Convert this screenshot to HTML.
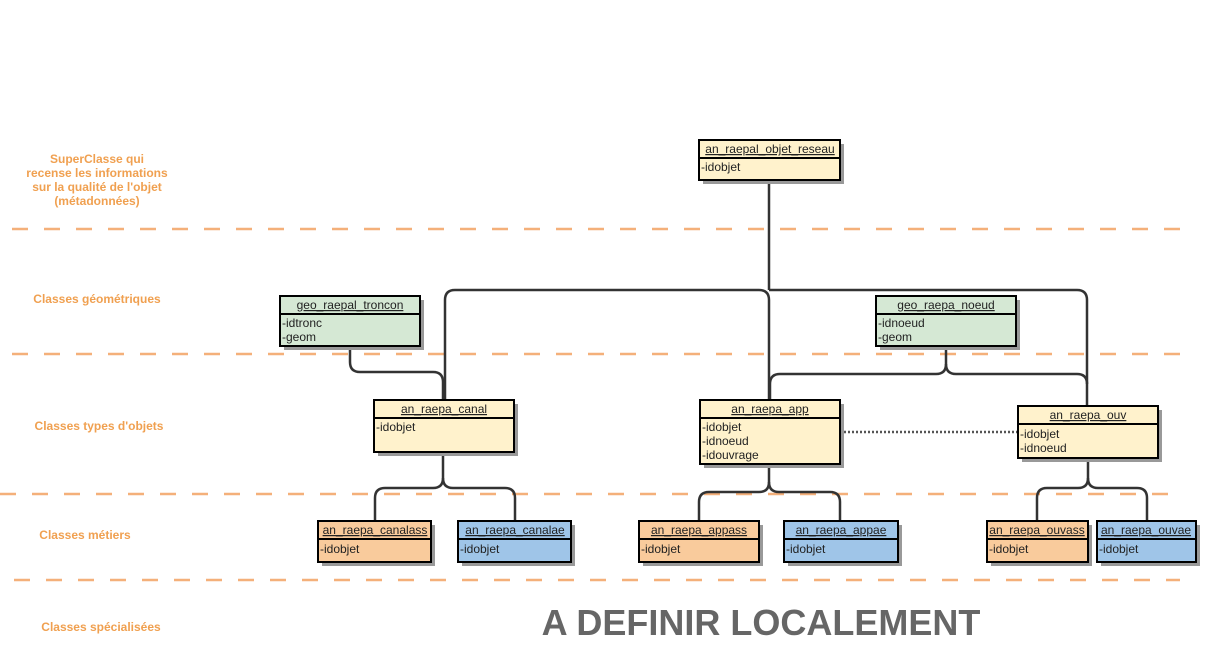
<!DOCTYPE html>
<html><head><meta charset="utf-8"><style>
html,body{margin:0;padding:0;background:#fff;}
svg{display:block;font-family:"Liberation Sans",Arial,sans-serif;}
.h{font-size:12px;text-decoration:underline;fill:#222;text-anchor:middle}
.a{font-size:12px;fill:#222}
.l{font-size:12px;font-weight:bold;fill:#f0a050;text-anchor:middle}
.c{fill:none;stroke:#333;stroke-width:2.5}
.d{stroke:#f4b07a;stroke-width:2.5;stroke-dasharray:16,16}
</style></head><body>
<svg width="1219" height="663" viewBox="0 0 1219 663">
<g class="dl">
<line class="d" x1="12" y1="229" x2="1180" y2="229"/>
<line class="d" x1="12" y1="354" x2="1180" y2="354"/>
<line class="d" x1="0" y1="494" x2="1180" y2="494"/>
<line class="d" x1="14" y1="580" x2="1180" y2="580"/>
</g>
<text class="l" x="97" y="163">SuperClasse qui</text>
<text class="l" x="97" y="177">recense les informations</text>
<text class="l" x="97" y="191">sur la qualité de l'objet</text>
<text class="l" x="97" y="205">(métadonnées)</text>
<text class="l" x="97" y="303">Classes géométriques</text>
<text class="l" x="99" y="430">Classes types d'objets</text>
<text class="l" x="85" y="539">Classes métiers</text>
<text class="l" x="101" y="631">Classes spécialisées</text>
<text x="761" y="635" style="font-size:36px;font-weight:bold;fill:#666;text-anchor:middle">A DEFINIR LOCALEMENT</text>

<!-- connectors -->
<path class="c" d="M769 180 V290" stroke-width="3"/>
<path class="c" d="M455 290 H759 Q769 290 769 300 V400"/>
<path class="c" d="M455 290 Q445 290 445 300 V400"/>
<path class="c" d="M769 290 H1077 Q1087 290 1087 300 V406"/>
<path class="c" d="M350 346 V362 Q350 372 360 372 H433 Q443 372 443 382 V400"/>
<path class="c" d="M946 346 V364 Q946 374 936 374 H780 Q770 374 770 384 V400"/>
<path class="c" d="M946 364 Q946 374 956 374 H1077 Q1087 374 1087 384"/>
<path class="c" d="M443 452 V478 Q443 488 433 488 H385 Q375 488 375 498 V521"/>
<path class="c" d="M443 478 Q443 488 453 488 H505 Q515 488 515 498 V521"/>
<path class="c" d="M769 464 V482 Q769 492 759 492 H709 Q699 492 699 502 V521"/>
<path class="c" d="M769 482 Q769 492 779 492 H830 Q840 492 840 502 V521"/>
<path class="c" d="M1088 458 V478 Q1088 488 1078 488 H1047 Q1037 488 1037 498 V521"/>
<path class="c" d="M1088 478 Q1088 488 1098 488 H1137 Q1147 488 1147 498 V521"/>
<line x1="840" y1="432" x2="1018" y2="432" stroke="#555" stroke-width="2.5" stroke-dasharray="2,2"/>

<!-- boxes: shadow, body, header line -->
<g stroke="#000" stroke-width="2">
<rect x="703" y="144" width="141" height="40" fill="#999" stroke="none"/>
<rect x="699" y="140" width="141" height="40" fill="#fff2cc"/>
<line x1="699" y1="158" x2="840" y2="158"/>
<rect x="284" y="300" width="140" height="50" fill="#999" stroke="none"/>
<rect x="280" y="296" width="140" height="50" fill="#d5e8d4"/>
<line x1="280" y1="314" x2="420" y2="314"/>
<rect x="880" y="300" width="140" height="50" fill="#999" stroke="none"/>
<rect x="876" y="296" width="140" height="50" fill="#d5e8d4"/>
<line x1="876" y1="314" x2="1016" y2="314"/>
<rect x="378" y="404" width="140" height="52" fill="#999" stroke="none"/>
<rect x="374" y="400" width="140" height="52" fill="#fff2cc"/>
<line x1="374" y1="418" x2="514" y2="418"/>
<rect x="704" y="404" width="140" height="64" fill="#999" stroke="none"/>
<rect x="700" y="400" width="140" height="64" fill="#fff2cc"/>
<line x1="700" y1="418" x2="840" y2="418"/>
<rect x="1022" y="410" width="140" height="52" fill="#999" stroke="none"/>
<rect x="1018" y="406" width="140" height="52" fill="#fff2cc"/>
<line x1="1018" y1="424" x2="1158" y2="424"/>

<rect x="322" y="525" width="113" height="41" fill="#999" stroke="none"/>
<rect x="318" y="521" width="113" height="41" fill="#f9cb9c"/>
<line x1="318" y1="539" x2="431" y2="539"/>
<rect x="462" y="525" width="113" height="41" fill="#999" stroke="none"/>
<rect x="458" y="521" width="113" height="41" fill="#9fc5e8"/>
<line x1="458" y1="539" x2="571" y2="539"/>
<rect x="643" y="525" width="120" height="41" fill="#999" stroke="none"/>
<rect x="639" y="521" width="120" height="41" fill="#f9cb9c"/>
<line x1="639" y1="539" x2="759" y2="539"/>
<rect x="788" y="525" width="114" height="41" fill="#999" stroke="none"/>
<rect x="784" y="521" width="114" height="41" fill="#9fc5e8"/>
<line x1="784" y1="539" x2="898" y2="539"/>
<rect x="991" y="525" width="101" height="41" fill="#999" stroke="none"/>
<rect x="987" y="521" width="101" height="41" fill="#f9cb9c"/>
<line x1="987" y1="539" x2="1088" y2="539"/>
<rect x="1101" y="525" width="99" height="41" fill="#999" stroke="none"/>
<rect x="1097" y="521" width="99" height="41" fill="#9fc5e8"/>
<line x1="1097" y1="539" x2="1196" y2="539"/>
</g>

<text class="h" x="770" y="153">an_raepal_objet_reseau</text>
<text class="a" x="701" y="171">-idobjet</text>
<text class="h" x="350" y="309">geo_raepal_troncon</text>
<text class="a" x="282" y="327">-idtronc</text>
<text class="a" x="282" y="341">-geom</text>
<text class="h" x="946" y="309">geo_raepa_noeud</text>
<text class="a" x="878" y="327">-idnoeud</text>
<text class="a" x="878" y="341">-geom</text>
<text class="h" x="444" y="413">an_raepa_canal</text>
<text class="a" x="376" y="431">-idobjet</text>
<text class="h" x="770" y="413">an_raepa_app</text>
<text class="a" x="702" y="431">-idobjet</text>
<text class="a" x="702" y="445">-idnoeud</text>
<text class="a" x="702" y="459">-idouvrage</text>
<text class="h" x="1088" y="419">an_raepa_ouv</text>
<text class="a" x="1020" y="438">-idobjet</text>
<text class="a" x="1020" y="452">-idnoeud</text>
<text class="h" x="375" y="534">an_raepa_canalass</text>
<text class="a" x="320" y="553">-idobjet</text>
<text class="h" x="515" y="534">an_raepa_canalae</text>
<text class="a" x="460" y="553">-idobjet</text>
<text class="h" x="699" y="534">an_raepa_appass</text>
<text class="a" x="641" y="553">-idobjet</text>
<text class="h" x="841" y="534">an_raepa_appae</text>
<text class="a" x="786" y="553">-idobjet</text>
<text class="h" x="1037" y="534">an_raepa_ouvass</text>
<text class="a" x="989" y="553">-idobjet</text>
<text class="h" x="1146" y="534">an_raepa_ouvae</text>
<text class="a" x="1099" y="553">-idobjet</text>
</svg>
</body></html>
